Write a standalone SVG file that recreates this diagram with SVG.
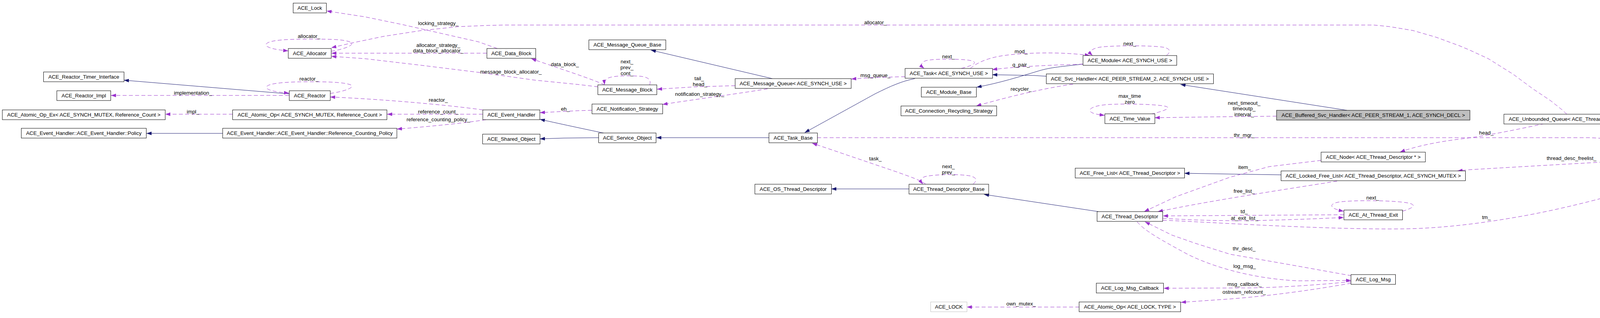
<svg xmlns="http://www.w3.org/2000/svg" width="4539" height="813" viewBox="0 0 4539 813">
<style>
.n rect{fill:#ffffff;stroke:#000000;stroke-width:1}
.n.main rect{fill:#bfbfbf}
.n.ext rect{stroke:#bfbfbf}
text{font-family:"Liberation Sans",Arial,Helvetica,sans-serif;font-size:13.3px;fill:#000000;text-anchor:middle}
.d{fill:none;stroke:#9a32cd;stroke-width:1;stroke-dasharray:10,6;marker-end:url(#ap)}
.s{fill:none;stroke:#191970;stroke-width:1;marker-end:url(#an)}
</style>
<defs>
<marker id="ap" markerUnits="userSpaceOnUse" markerWidth="13" markerHeight="10" refX="13" refY="5" orient="auto"><path d="M0,0.5 L13,5 L0,9.5 z" fill="#9a32cd" stroke="none"/></marker>
<marker id="an" markerUnits="userSpaceOnUse" markerWidth="13" markerHeight="10" refX="13" refY="5" orient="auto"><path d="M0,0.5 L13,5 L0,9.5 z" fill="#191970" stroke="none"/></marker>
</defs>
<rect x="0" y="0" width="4539" height="813" fill="#ffffff"/>

<g id="edges">
<path class="s" d="M740,240 L317,205"/>
<path class="s" d="M570,341 L375,341"/>
<path class="s" d="M1545,340 C1520,335 1440,318 1382,305"/>
<path class="s" d="M1533,352 L1443,353 L1382,355"/>
<path class="s" d="M1968,352 L1680,352"/>
<path class="s" d="M1977,201 L1666,128"/>
<path class="s" d="M2342,201 C2310,207 2280,220 2240,240 L2060,339"/>
<path class="s" d="M2772,164 C2720,170 2690,172 2660,181 C2610,196 2560,212 2500,223"/>
<path class="s" d="M2679,195 L2648,193 L2540,191"/>
<path class="s" d="M3448,282 L3022,216"/>
<path class="s" d="M2327,483 L2128,483"/>
<path class="s" d="M2812,541 L2519,497"/>
<path class="s" d="M3280,447 L3149,445 L3032,443"/>

<path class="d" d="M740,244 L284,244"/>
<path class="d" d="M596,292 L423,292"/>
<path class="d" d="M848,131 C880,126 910,115 898,108 C880,100 840,100 790,100 C740,100 690,102 682,112 C676,120 700,127 738,130"/>
<path class="d" d="M845,239 C880,234 910,224 898,217 C880,210 840,209 790,209 C740,209 690,212 683,221 C678,229 700,235 740,238"/>
<path class="d" d="M1273,124 L1225,107 L1128,85 L1031,63 L934,43 L836,28"/>
<path class="d" d="M1246,136 L848,136"/>
<path class="d" d="M1531,222 L1480,216 L1370,205 L1225,185 L1079,167 L934,150 L848,144"/>
<path class="d" d="M1548,217 C1510,200 1440,178 1360,150"/>
<path class="d" d="M1236,281 C1160,270 990,254 845,248"/>
<path class="d" d="M1236,292 L991,292"/>
<path class="d" d="M1244,306 C1180,316 1080,325 1016,330"/>
<path class="d" d="M1515,282 L1480,283 L1382,288"/>
<path class="d" d="M1663,217 C1668,205 1660,197 1640,195 C1610,193 1570,193 1556,200 C1548,205 1547,210 1548,217"/>
<path class="d" d="M1882,219 L1780,222 L1682,228"/>
<path class="d" d="M1965,227 C1900,238 1780,254 1696,267"/>
<path class="d" d="M2317,196 L2240,198 L2179,202"/>
<path class="d" d="M4011,292 L3998,280 L3969,257 L3924,227 L3874,190 L3810,150 L3760,127 L3736,117 L3676,95 L3617,78 L3557,68 L3517,64 L1290,64 L1249,65 L1176,68 L1079,78 L982,93 L900,110 L848,122"/>
<path class="d" d="M2461,175 C2480,170 2505,162 2490,156 C2470,150 2400,150 2375,154 C2355,158 2357,168 2366,175"/>
<path class="d" d="M2484,175 C2495,165 2520,150 2563,143 C2620,134 2720,132 2790,142"/>
<path class="d" d="M2772,164 C2700,166 2600,170 2540,178"/>
<path class="d" d="M2986,142 C2996,134 2998,125 2980,121 C2950,116 2860,116 2820,120 C2790,124 2788,134 2797,142"/>
<path class="d" d="M2747,215 C2680,225 2600,242 2499,271"/>
<path class="d" d="M2946,292 C2975,285 3000,277 2985,272 C2960,266 2880,265 2840,267 C2790,270 2780,283 2800,290 C2810,293 2820,294 2828,295"/>
<path class="d" d="M3268,297 L3090,299 L2956,301"/>
<path class="d" d="M2092,352 L4068,352 C4150,355 4280,370 4378,384"/>
<path class="d" d="M2370,471 C2355,460 2330,452 2300,441 L2079,366"/>
<path class="d" d="M2491,471 C2500,463 2503,455 2485,450 C2460,445 2400,445 2370,451 C2355,455 2357,464 2363,471"/>
<path class="d" d="M3382,410 L3249,426 L3149,453 L3060,485 L3010,503 L2929,541"/>
<path class="d" d="M3423,463 C3330,478 3150,505 3020,530 L2964,541"/>
<path class="d" d="M3440,549 L2977,552"/>
<path class="d" d="M2977,558 C3050,563 3150,566 3250,563 C3330,561 3400,558 3440,556"/>
<path class="d" d="M2977,563 C3100,568 3400,588 3600,585 C3700,583 3800,570 3900,552 C4050,525 4250,470 4406,409"/>
<path class="d" d="M3460,705 L3298,676 L3149,650 L3060,622 L3000,601 L2931,567"/>
<path class="d" d="M2911,567 C2930,590 2970,612 3040,650 C3100,680 3200,712 3323,718 L3459,717"/>
<path class="d" d="M3459,720 C3380,728 3280,735 3200,736 L2979,737"/>
<path class="d" d="M3459,724 C3380,738 3250,758 3124,766 L3023,773"/>
<path class="d" d="M2763,785 L2475,785"/>
<path class="d" d="M3590,540 C3615,533 3630,524 3605,519 C3570,512 3460,511 3425,517 C3400,522 3405,534 3440,540"/>
<path class="d" d="M3954,316 C3880,332 3800,348 3750,354 C3680,362 3620,375 3584,389"/>
<path class="d" d="M4436,384 C4400,360 4340,325 4260,313 L4201,308"/>
<path class="d" d="M4505,384 C4520,375 4525,365 4500,361 C4470,356 4430,357 4410,362 C4390,368 4390,376 4396,384"/>
<path class="d" d="M4376,400 C4250,406 4000,420 3760,434 L3731,437"/>

<text x="494" y="242">implementation_</text>
<text x="494" y="290">impl_</text>
<text x="791" y="97">allocator_</text>
<text x="791" y="206">reactor_</text>
<text x="1122" y="64">locking_strategy_</text>
<text x="1122" y="120">allocator_strategy_</text>
<text x="1122" y="134">data_block_allocator_</text>
<text x="1308" y="188">message_block_allocator_</text>
<text x="1446" y="169">data_block_</text>
<text x="1122" y="260">reactor_</text>
<text x="1122" y="290">reference_count_</text>
<text x="1122" y="310">reference_counting_policy_</text>
<text x="1447" y="283">eh_</text>
<text x="1605" y="162">next_</text>
<text x="1605" y="177">prev_</text>
<text x="1605" y="192">cont_</text>
<text x="1790" y="205">tail_</text>
<text x="1792" y="220">head_</text>
<text x="1791" y="245">notification_strategy_</text>
<text x="2241" y="197">msg_queue_</text>
<text x="2241" y="62">allocator_</text>
<text x="2241" y="410">task_</text>
<text x="2428" y="149">next_</text>
<text x="2614" y="136">mod_</text>
<text x="2614" y="170">q_pair_</text>
<text x="2892" y="116">next_</text>
<text x="2614" y="232">recycler_</text>
<text x="2892" y="250">max_time</text>
<text x="2892" y="265">zero</text>
<text x="2428" y="430">next_</text>
<text x="2428" y="445">prev_</text>
<text x="2614" y="781">own_mutex_</text>
<text x="3185" y="268">next_timeout_</text>
<text x="3185" y="282">timeoutp_</text>
<text x="3185" y="297">interval_</text>
<text x="3185" y="350">thr_mgr_</text>
<text x="3186" y="432">item_</text>
<text x="3185" y="493">free_list_</text>
<text x="3514" y="510">next_</text>
<text x="3185" y="545">td_</text>
<text x="3186" y="562">at_exit_list_</text>
<text x="3185" y="640">thr_desc_</text>
<text x="3186" y="685">log_msg_</text>
<text x="3186" y="731">msg_callback_</text>
<text x="3185" y="751">ostream_refcount_</text>
<text x="3805" y="344">head_</text>
<text x="4285" y="309">thr_to_be_removed_</text>
<text x="4452" y="358">thr_mgr_</text>
<text x="4023" y="409">thread_desc_freelist_</text>
<text x="3805" y="560">tm_</text>
</g>

<g id="n_timer_interface" class="n"><rect x="111.5" y="184" width="206" height="25"/><text x="214.5" y="201">ACE_Reactor_Timer_Interface</text></g>
<g id="n_reactor_impl" class="n"><rect x="145.5" y="232" width="138" height="25"/><text x="214.5" y="249">ACE_Reactor_Impl</text></g>
<g id="n_atomic_op_ex" class="n"><rect x="6" y="281" width="417" height="25"/><text x="214.5" y="298">ACE_Atomic_Op_Ex&lt; ACE_SYNCH_MUTEX, Reference_Count &gt;</text></g>
<g id="n_policy" class="n"><rect x="54.5" y="328" width="320" height="25"/><text x="214.5" y="345">ACE_Event_Handler::ACE_Event_Handler::Policy</text></g>

<g id="n_lock" class="n"><rect x="750.5" y="8" width="85" height="25"/><text x="793" y="25">ACE_Lock</text></g>
<g id="n_allocator" class="n"><rect x="738" y="124" width="110" height="25"/><text x="793" y="141">ACE_Allocator</text></g>
<g id="n_reactor" class="n"><rect x="740.5" y="232" width="105" height="25"/><text x="793" y="249">ACE_Reactor</text></g>
<g id="n_atomic_op_mutex" class="n"><rect x="595.5" y="281" width="395" height="25"/><text x="793" y="298">ACE_Atomic_Op&lt; ACE_SYNCH_MUTEX, Reference_Count &gt;</text></g>
<g id="n_ref_counting_policy" class="n"><rect x="570" y="328" width="446" height="25"/><text x="793" y="345">ACE_Event_Handler::ACE_Event_Handler::Reference_Counting_Policy</text></g>

<g id="n_data_block" class="n"><rect x="1246.5" y="124" width="125" height="25"/><text x="1309" y="141">ACE_Data_Block</text></g>
<g id="n_event_handler" class="n"><rect x="1236" y="281" width="146" height="25"/><text x="1309" y="298">ACE_Event_Handler</text></g>
<g id="n_shared_object" class="n"><rect x="1235.5" y="343" width="147" height="25"/><text x="1309" y="360">ACE_Shared_Object</text></g>

<g id="n_mq_base" class="n"><rect x="1507.5" y="102" width="197" height="25"/><text x="1606" y="119">ACE_Message_Queue_Base</text></g>
<g id="n_message_block" class="n"><rect x="1530.5" y="217" width="151" height="25"/><text x="1606" y="234">ACE_Message_Block</text></g>
<g id="n_notification_strategy" class="n"><rect x="1515.5" y="266" width="181" height="25"/><text x="1606" y="283">ACE_Notification_Strategy</text></g>
<g id="n_service_object" class="n"><rect x="1532.5" y="340" width="147" height="25"/><text x="1606" y="357">ACE_Service_Object</text></g>

<g id="n_message_queue" class="n"><rect x="1882" y="201" width="297" height="25"/><text x="2030.5" y="218">ACE_Message_Queue&lt; ACE_SYNCH_USE &gt;</text></g>
<g id="n_task_base" class="n"><rect x="1968.5" y="340" width="124" height="25"/><text x="2030.5" y="357">ACE_Task_Base</text></g>
<g id="n_os_thread_descriptor" class="n"><rect x="1932.5" y="471" width="196" height="25"/><text x="2030.5" y="488">ACE_OS_Thread_Descriptor</text></g>

<g id="n_task" class="n"><rect x="2317" y="175" width="224" height="25"/><text x="2429" y="192">ACE_Task&lt; ACE_SYNCH_USE &gt;</text></g>
<g id="n_module_base" class="n"><rect x="2358.5" y="223" width="141" height="25"/><text x="2429" y="240">ACE_Module_Base</text></g>
<g id="n_conn_recycling" class="n"><rect x="2306.5" y="271" width="245" height="25"/><text x="2429" y="288">ACE_Connection_Recycling_Strategy</text></g>
<g id="n_thread_descriptor_base" class="n"><rect x="2327" y="471" width="204" height="25"/><text x="2429" y="488">ACE_Thread_Descriptor_Base</text></g>
<g id="n_ace_lock" class="n ext"><rect x="2382.5" y="772" width="93" height="25"/><text x="2429" y="789">ACE_LOCK</text></g>

<g id="n_module" class="n"><rect x="2772.5" y="142" width="240" height="25"/><text x="2892.5" y="159">ACE_Module&lt; ACE_SYNCH_USE &gt;</text></g>
<g id="n_svc_handler" class="n"><rect x="2678.5" y="189" width="428" height="25"/><text x="2892.5" y="206">ACE_Svc_Handler&lt; ACE_PEER_STREAM_2, ACE_SYNCH_USE &gt;</text></g>
<g id="n_time_value" class="n"><rect x="2828.5" y="291" width="128" height="25"/><text x="2892.5" y="308">ACE_Time_Value</text></g>
<g id="n_free_list" class="n"><rect x="2752.5" y="430" width="280" height="25"/><text x="2892.5" y="447">ACE_Free_List&lt; ACE_Thread_Descriptor &gt;</text></g>
<g id="n_thread_descriptor" class="n"><rect x="2808.5" y="541" width="168" height="25"/><text x="2892.5" y="558">ACE_Thread_Descriptor</text></g>
<g id="n_log_msg_callback" class="n"><rect x="2806.5" y="724" width="172" height="25"/><text x="2892.5" y="741">ACE_Log_Msg_Callback</text></g>
<g id="n_atomic_op_lock" class="n"><rect x="2762.5" y="772" width="260" height="25"/><text x="2892.5" y="789">ACE_Atomic_Op&lt; ACE_LOCK, TYPE &gt;</text></g>

<g id="n_buffered_svc_handler" class="n main"><rect x="3268" y="282" width="495" height="25"/><text x="3515.5" y="299">ACE_Buffered_Svc_Handler&lt; ACE_PEER_STREAM_1, ACE_SYNCH_DECL &gt;</text></g>
<g id="n_node" class="n"><rect x="3382" y="389" width="267" height="25"/><text x="3515.5" y="406">ACE_Node&lt; ACE_Thread_Descriptor * &gt;</text></g>
<g id="n_locked_free_list" class="n"><rect x="3279.5" y="437" width="472" height="25"/><text x="3515.5" y="454">ACE_Locked_Free_List&lt; ACE_Thread_Descriptor, ACE_SYNCH_MUTEX &gt;</text></g>
<g id="n_at_thread_exit" class="n"><rect x="3440.5" y="537" width="150" height="25"/><text x="3515.5" y="554">ACE_At_Thread_Exit</text></g>
<g id="n_log_msg" class="n"><rect x="3458.5" y="702" width="114" height="25"/><text x="3515.5" y="719">ACE_Log_Msg</text></g>

<g id="n_unbounded_queue" class="n"><rect x="3850" y="292" width="351" height="25"/><text x="4025.5" y="309">ACE_Unbounded_Queue&lt; ACE_Thread_Descriptor * &gt;</text></g>
<g id="n_thread_manager" class="n"><rect x="4375" y="384" width="159" height="25"/><text x="4454.5" y="401">ACE_Thread_Manager</text></g>
</svg>
